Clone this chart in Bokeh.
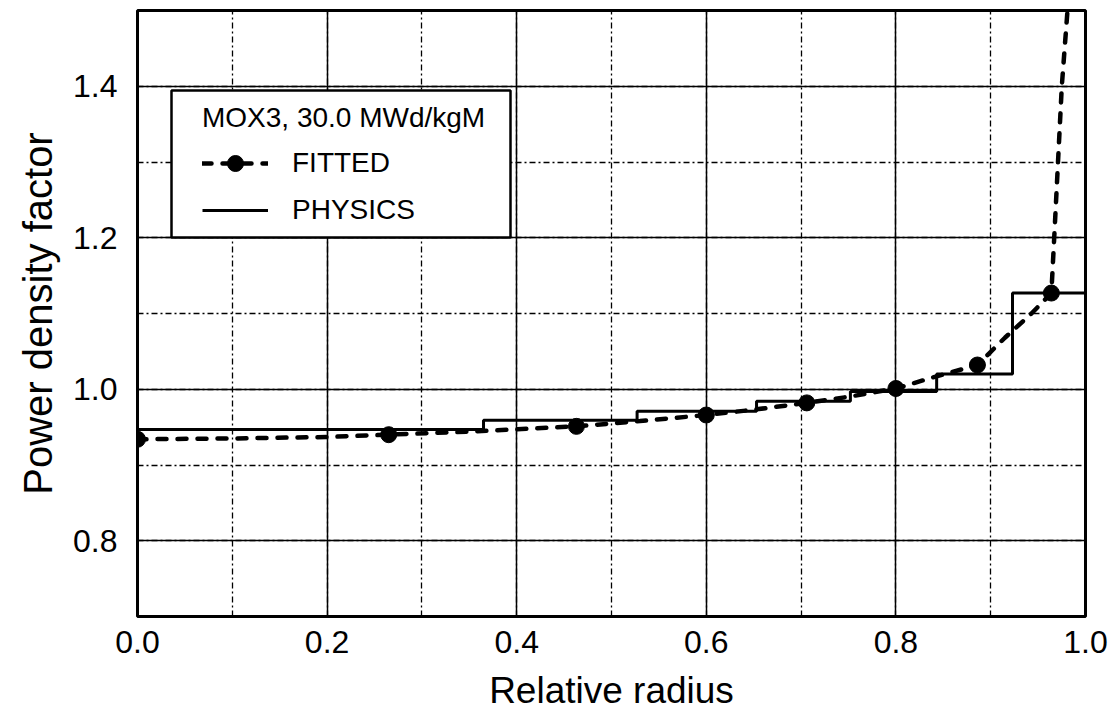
from bokeh.plotting import figure
from bokeh.models import (Range1d, SingleIntervalTicker, Legend, LegendItem,
                          BoxAnnotation, NumeralTickFormatter)
from bokeh.embed import file_html
from bokeh.resources import INLINE

# ---------------- data ----------------
# fitted curve (dashed) sampled along its path
fit_r = [0.0, 0.1, 0.2, 0.265, 0.35, 0.463, 0.53, 0.6, 0.65, 0.706, 0.75, 0.8,
         0.84, 0.886, 0.915, 0.943, 0.964, 0.967, 0.971, 0.975, 0.981]
fit_f = [0.934, 0.935, 0.937, 0.940, 0.944, 0.951, 0.958, 0.966, 0.973, 0.982,
         0.990, 1.001, 1.016, 1.032, 1.068, 1.100, 1.127, 1.20, 1.30, 1.40, 1.50]
# fitted curve markers
mark_r = [0.0, 0.265, 0.463, 0.6, 0.706, 0.8, 0.886, 0.964]
mark_f = [0.934, 0.940, 0.951, 0.966, 0.982, 1.001, 1.032, 1.127]
# physics step profile: ring edges and ring values
phys_edges = [0.0, 0.365, 0.527, 0.653, 0.752, 0.843, 0.923, 1.0]
phys_vals = [0.947, 0.959, 0.971, 0.984, 0.997, 1.020, 1.127]

x_ticks_interval = 0.2
y_ticks_interval = 0.2
legend_title = "MOX3, 30.0 MWd/kgM"
x_label = "Relative radius"
y_label = "Power density factor"

# ---------------- layout ----------------
W, H = 1118, 723
ML, MR, MT, MB = 137, 33, 10, 107
FW, FH = W - ML - MR, H - MT - MB
X0, X1, Y0, Y1 = 0.0, 1.0, 0.7, 1.5
FONT = "Liberation Sans"

p = figure(width=W, height=H, output_backend="svg", toolbar_location=None,
           x_range=Range1d(X0, X1), y_range=Range1d(Y0, Y1), title=None,
           min_border_left=ML, min_border_right=MR, min_border_top=MT,
           min_border_bottom=MB)
p.background_fill_color = "white"
p.border_fill_color = "white"
p.outline_line_color = "black"
p.outline_line_width = 3
p.outline_line_alpha = 1

p.xaxis.ticker = SingleIntervalTicker(interval=x_ticks_interval, num_minor_ticks=2)
p.yaxis.ticker = SingleIntervalTicker(interval=y_ticks_interval, num_minor_ticks=2)
for ax in (p.xaxis, p.yaxis):
    ax.formatter = NumeralTickFormatter(format="0.0")
    ax.axis_line_color = None
    ax.major_tick_line_color = None
    ax.minor_tick_line_color = None
    ax.major_label_text_font = FONT
    ax.major_label_text_font_size = "32px"
    ax.major_label_text_color = "black"
    ax.axis_label_text_font = FONT
    ax.axis_label_text_font_style = "normal"
    ax.axis_label_text_color = "black"
p.xaxis.axis_label = x_label
p.yaxis.axis_label = y_label
p.xaxis.axis_label_text_font_size = "37px"
p.yaxis.axis_label_text_font_size = "40px"
p.xaxis.major_label_standoff = 8
p.xaxis.axis_label_standoff = 14
p.yaxis.major_label_standoff = 14
p.yaxis.axis_label_standoff = 10

for g in (p.xgrid, p.ygrid):
    g.grid_line_color = "black"
    g.grid_line_width = 1.5
    g.grid_line_alpha = 1
    g.minor_grid_line_color = "black"
    g.minor_grid_line_width = 1.3
    g.minor_grid_line_dash = "6 3 2 3"
    g.minor_grid_line_alpha = 1

# ---------------- glyphs ----------------
phys_x = list(phys_edges)
phys_y = list(phys_vals) + [phys_vals[-1]]
phys = p.step(phys_x, phys_y, mode="after", line_color="black", line_width=3)

fit_line = p.line(fit_r, fit_f, line_color="black", line_width=4.5,
                  line_dash="9 11", line_cap="round")
fit_pts = p.scatter(mark_r, mark_f, marker="circle", size=16,
                    fill_color="black", line_color="black")

# ---------------- legend ----------------
def px_to_x(px):
    return X0 + px / FW * (X1 - X0)

def py_to_y(py):
    return Y1 - py / FH * (Y1 - Y0)

box = BoxAnnotation(left=px_to_x(34), right=px_to_x(373),
                    top=py_to_y(80), bottom=py_to_y(227),
                    fill_color="white", fill_alpha=1,
                    line_color="black", line_width=2.5, line_alpha=1)
p.add_layout(box)

legend = Legend(items=[LegendItem(label="FITTED", renderers=[fit_line, fit_pts]),
                       LegendItem(label="PHYSICS", renderers=[phys])],
                title=legend_title, location=(53, FH - 80 - 152),
                padding=12, spacing=7, margin=0,
                label_height=40, glyph_height=40, glyph_width=66,
                label_standoff=24, title_standoff=9,
                border_line_alpha=0, background_fill_alpha=0,
                label_text_font=FONT, label_text_font_size="28px",
                label_text_color="black",
                title_text_font=FONT, title_text_font_size="28px",
                title_text_font_style="normal", title_text_color="black")
p.add_layout(legend)

open("out.html", "w").write(file_html(p, INLINE))
